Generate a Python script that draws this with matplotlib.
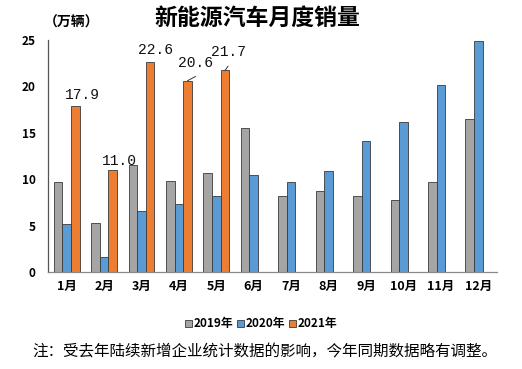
import matplotlib
matplotlib.use("Agg")
import matplotlib.pyplot as plt
import numpy as np
from matplotlib.patches import Patch

plt.rcParams['font.family'] = ['Noto Sans CJK SC', 'DejaVu Sans']

months = ['1月', '2月', '3月', '4月', '5月', '6月', '7月', '8月', '9月', '10月', '11月', '12月']
sales_2019 = [9.7, 5.3, 11.5, 9.85, 10.7, 15.5, 8.2, 8.7, 8.2, 7.8, 9.7, 16.5]
sales_2020 = [5.2, 1.6, 6.6, 7.3, 8.2, 10.4, 9.7, 10.9, 14.1, 16.2, 20.1, 24.9]
sales_2021 = [17.9, 11.0, 22.6, 20.6, 21.7]
labels_2021 = ['17.9', '11.0', '22.6', '20.6', '21.7']
series_names = ['2019年', '2020年', '2021年']
yticks = [0, 5, 10, 15, 20, 25]

colors = ['#A5A5A5', '#5B9BD5', '#ED7D31']
edge = '#3a3a3a'

fig = plt.figure(figsize=(5.22, 3.69), dpi=100)
ax = fig.add_axes([0.092, 0.263, 0.860, 0.629])

x = np.arange(len(months))
w = 0.23
ax.bar(x - w, sales_2019, w, color=colors[0], edgecolor=edge, linewidth=0.6)
ax.bar(x, sales_2020, w, color=colors[1], edgecolor=edge, linewidth=0.6)
x21 = x[:len(sales_2021)] + w
ax.bar(x21, sales_2021, w, color=colors[2], edgecolor=edge, linewidth=0.6)

# data labels (offsets in data units)
offsets = [(0.19, 1.2, None), (0.17, 0.9, None), (0.15, 1.35, None),
           (0.21, 1.9, (0.21, 0.45)), (0.10, 2.0, (0.08, 0.45))]
for xi, v, lab, (dx, dy, lead) in zip(x21, sales_2021, labels_2021, offsets):
    ax.text(xi + dx, v + dy, lab, ha='center', va='center', fontsize=10.5,
            family=['Liberation Mono', 'DejaVu Sans Mono'], color='#111111')
    if lead is not None:
        ax.plot([xi, xi + lead[0]], [v, v + lead[1]], color='#333333', lw=0.7)

ax.set_xlim(-0.5, len(months) - 0.5)
ax.set_ylim(0, 25)
ax.set_yticks(yticks)
ax.set_yticklabels([str(t) for t in yticks], fontsize=8.5, fontweight='bold')
ax.set_xticks(x)
ax.set_xticklabels(months, fontsize=9, fontweight='bold')
ax.tick_params(axis='y', length=0, pad=9)
ax.tick_params(axis='x', length=0, pad=6)
for s in ['top', 'right']:
    ax.spines[s].set_visible(False)
ax.spines['left'].set_color('#555555')
ax.spines['bottom'].set_color('#888888')
ax.spines['left'].set_linewidth(0.9)
ax.spines['bottom'].set_linewidth(0.9)

fig.text(0.493, 0.95, '新能源汽车月度销量', ha='center', va='center', fontsize=16.5, fontweight='bold')
fig.text(0.137, 0.94, '（万辆）', ha='center', va='center', fontsize=10, fontweight='bold')

handles = [Patch(facecolor=c, edgecolor=edge, linewidth=0.6) for c in colors]
fig.legend(handles, series_names, loc='center', bbox_to_anchor=(0.5, 0.122), ncol=3,
           frameon=False, handlelength=0.6, handleheight=0.6,
           handletextpad=0.15, columnspacing=0.3, prop={'weight': 'bold', 'size': 8.5})

fig.text(0.508, 0.046, '注：受去年陆续新增企业统计数据的影响，今年同期数据略有调整。',
         ha='center', va='center', fontsize=11.2)

fig.savefig('out.png', dpi=100)
